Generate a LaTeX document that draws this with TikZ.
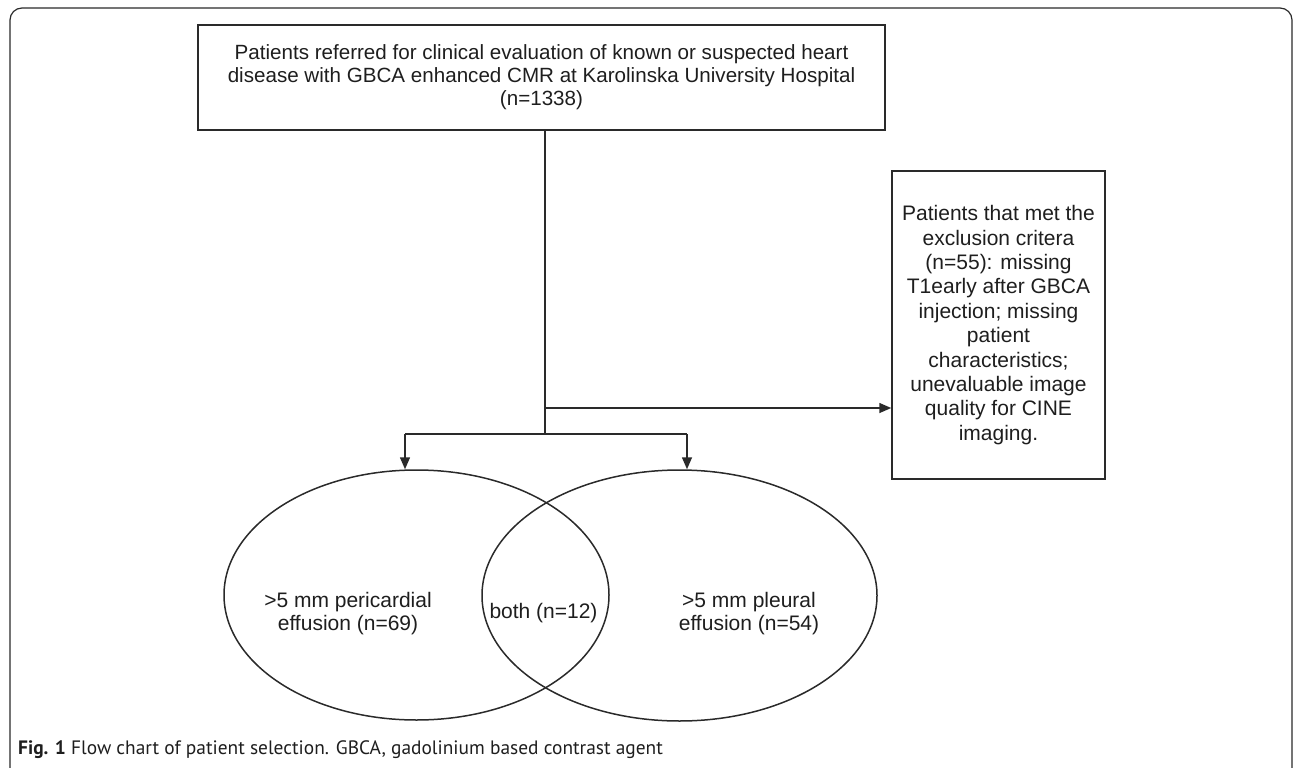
\documentclass[tikz,border=0pt]{standalone}
\usepackage{fontspec}
\setmainfont{Liberation Sans}
\newfontfamily\capfont{PT Sans}
\usetikzlibrary{shapes.geometric,arrows.meta}
\definecolor{ln}{HTML}{2A2A2A}
\definecolor{tx}{HTML}{1E1E1E}
\begin{document}
\begin{tikzpicture}[x=1pt,y=-1pt,
  box/.style={draw=ln, line width=1.5pt, align=center, inner sep=0pt, text=tx},
  ell/.style={draw=ln, line width=1.5pt, ellipse, inner sep=0pt},
  lbl/.style={align=center, text=tx, inner sep=0pt, font=\fontsize{21}{23}\selectfont},
  conn/.style={draw=ln, line width=1.5pt},
  arr/.style={conn, -{Triangle[length=12pt,width=10pt]}}]
\useasboundingbox (0,0) rectangle (1293,768);
\clip (0,0) rectangle (1293,768);
\draw[ln, line width=1.2pt, rounded corners=12pt] (10,8) rectangle (1292,792);
\node[box, minimum width=687pt, minimum height=105pt, font=\fontsize{20.6}{23}\selectfont] (top) at (541.5,77.5)
  {Patients referred for clinical evaluation of known or suspected heart\\
   disease with GBCA enhanced CMR at Karolinska University Hospital\\
   (n=1338)};
\node[box, minimum width=213pt, minimum height=308pt, font=\fontsize{21}{24.4}\selectfont] (exc) at (998.5,325)
  {Patients that met the\\ exclusion critera\\ (n=55): missing\\ T1early after GBCA\\
   injection; missing\\ patient\\ characteristics;\\ unevaluable image\\ quality for CINE\\ imaging.};
\node[ell, minimum width=385pt, minimum height=250pt] (ellL) at (416.5,595) {};
\node[ell, minimum width=395pt, minimum height=251pt] (ellR) at (679.5,595.5) {};
\node[lbl] (tL) at (348,613.5) {>5 mm pericardial\\effusion (n=69)};
\node[lbl] (tB) at (543.5,613) {both (n=12)};
\node[lbl] (tR) at (749,613.5) {>5 mm pleural\\effusion (n=54)};
\coordinate (j1) at (545,408);
\coordinate (j2) at (545,434);
\coordinate (jl) at (405,434);
\coordinate (jr) at (687,434);
\draw[conn] (top.south -| j2) -- (j2);
\draw[arr] (j1) -- (j1 -| exc.west);
\draw[conn] (jl) -- (jr);
\draw[arr] (jl) -- (jl |- ellL.north);
\draw[arr] (jr) -- (jr |- ellR.north);
\node[anchor=base west, text=tx, inner sep=0pt, font=\capfont\fontsize{19.4}{22}\selectfont] (cap) at (18,754)
  {\textbf{Fig. 1} Flow chart of patient selection. GBCA, gadolinium based contrast agent};
\end{tikzpicture}
\end{document}
